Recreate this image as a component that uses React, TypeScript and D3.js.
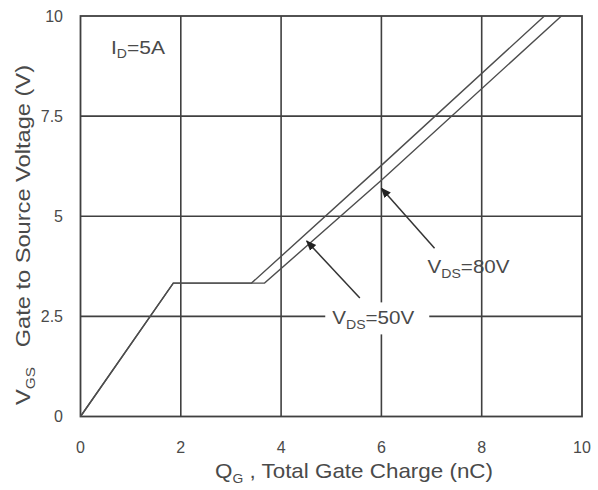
import React from 'react';
import * as d3 from 'd3';

// gate charge curves, [Qg nC, Vgs V]
const vds50 = [[0, 0], [1.85, 3.33], [3.41, 3.33], [6, 6.27], [9.25, 10]];
const vds80 = [[0, 0], [1.85, 3.33], [3.67, 3.33], [6, 5.9], [9.59, 10]];

const xTicks = [0, 2, 4, 6, 8, 10];
const yTicks = [0, 2.5, 5, 7.5, 10];
const yTickLabels = ['0', '2.5', '5', '7.5', '10'];

// annotation arrows, in data units
const arrows = [
  { name: '50V', from: [5.57, 2.96], to: [4.51, 4.38], label: [5.02, 2.3], boxed: true },
  { name: '80V', from: [7.06, 4.2], to: [6.0, 5.7], label: [6.92, 3.58], boxed: false },
];

const W = 598;
const H = 490;
const ink = '#404040';
const textCol = '#4a4a4a';
const font = '"Liberation Sans", Arial, sans-serif';

const App = () => {
  const x = d3.scaleLinear().domain([0, 10]).range([80.5, 582]);
  const y = d3.scaleLinear().domain([0, 10]).range([416.5, 16]);
  const line = d3.line<number[]>().x(d => x(d[0])).y(d => y(d[1]));

  return (
    <svg width={W} height={H} style={{ position: 'absolute', left: 0, top: 0, background: '#fff' }}
      fontFamily={font}>
      {/* grid */}
      {xTicks.slice(1, -1).map(t => (
        <line key={'gx' + t} x1={x(t)} x2={x(t)} y1={y(0)} y2={y(10)} stroke={ink} strokeWidth={1.6} />
      ))}
      {yTicks.slice(1, -1).map(t => (
        <line key={'gy' + t} x1={x(0)} x2={x(10)} y1={y(t)} y2={y(t)} stroke={ink} strokeWidth={1.6} />
      ))}
      <rect x={x(0)} y={y(10)} width={x(10) - x(0)} height={y(0) - y(10)} fill="none" stroke={ink} strokeWidth={1.8} />

      {/* curves */}
      <path d={line(vds50) || ''} fill="none" stroke="#4d4d4d" strokeWidth={1.4} />
      <path d={line(vds80) || ''} fill="none" stroke="#4d4d4d" strokeWidth={1.4} />

      {/* ticks */}
      {xTicks.map(t => (
        <text key={'tx' + t} x={x(t)} y={453} textAnchor="middle" fontSize={16} fill={textCol}>{t}</text>
      ))}
      {yTicks.map((t, i) => (
        <text key={'ty' + t} x={63} y={y(t) + 5.5} textAnchor="end" fontSize={16} fill={textCol}>{yTickLabels[i]}</text>
      ))}

      {/* annotations */}
      <text x={111} y={54} fontSize={18} fill={textCol} textLength={54} lengthAdjust="spacingAndGlyphs">
        I<tspan dy={4} fontSize={12}>D</tspan><tspan dy={-4}>=5A</tspan>
      </text>
      <defs>
        <marker id="ah" viewBox="0 0 10 10" refX={9} refY={5} markerWidth={7} markerHeight={7} orient="auto">
          <path d="M0,1 L10,5 L0,9 Z" fill="#222" />
        </marker>
      </defs>
      {arrows.map(a => (
        <g key={a.name}>
          {a.boxed && (
            <rect x={x(a.label[0]) - 7} y={y(a.label[1]) - 22} width={104} height={32} fill="#fff" />
          )}
          <line x1={x(a.from[0])} y1={y(a.from[1])} x2={x(a.to[0])} y2={y(a.to[1])}
            stroke="#333" strokeWidth={1.5} markerEnd="url(#ah)" />
          <text x={x(a.label[0])} y={y(a.label[1])} fontSize={19} fill={textCol}
            textLength={82} lengthAdjust="spacingAndGlyphs">
            V<tspan dy={5} fontSize={13}>DS</tspan><tspan dy={-5}>={a.name}</tspan>
          </text>
        </g>
      ))}

      {/* axis titles */}
      <text x={354} y={478} textAnchor="middle" fontSize={21} fill={textCol}
        textLength={278} lengthAdjust="spacingAndGlyphs">
        Q<tspan dy={5} fontSize={13}>G</tspan><tspan dy={-5}> , Total Gate Charge (nC)</tspan>
      </text>
      <text transform={`translate(30, 235) rotate(-90)`} textAnchor="middle" fontSize={20} fill={textCol}
        textLength={340} lengthAdjust="spacingAndGlyphs">
        V<tspan dy={5} fontSize={13}>GS</tspan><tspan dy={-5}>{'\u00a0\u00a0\u00a0Gate to Source Voltage (V)'}</tspan>
      </text>
    </svg>
  );
};

export default App;
